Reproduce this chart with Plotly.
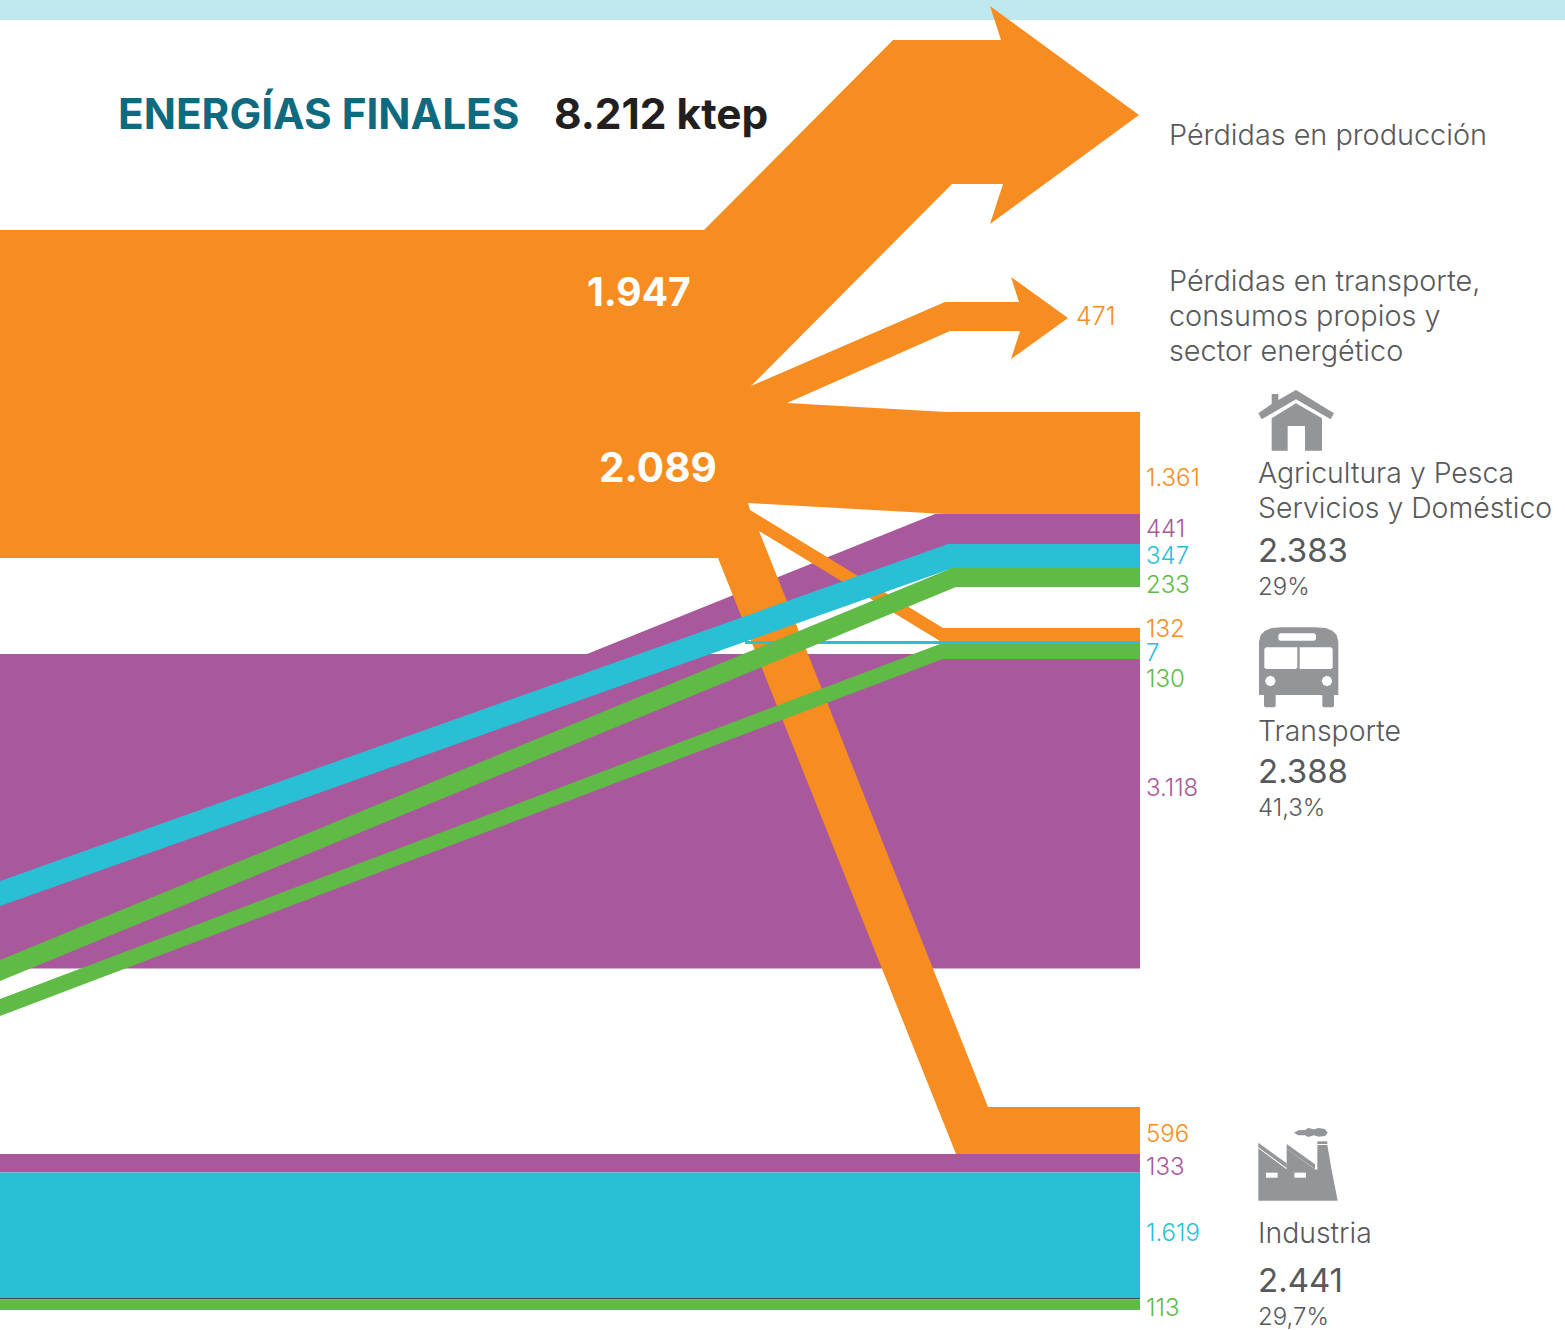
import plotly.graph_objects as go

ORANGE, PURPLE, CYAN, GREEN = "#f78d20", "#aa589c", "#29bfd4", "#5fba46"
GRAY, ICON = "#58595b", "#939598"
FONT = "Inter"

title_text = "ENERGÍAS FINALES"
total_text = "8.212 ktep"
loss_labels = ["Pérdidas en producción", "Pérdidas en transporte,", "consumos propios y", "sector energético"]
sector_names = ["Agricultura y Pesca", "Servicios y Doméstico", "Transporte", "Industria"]
sector_totals = ["2.383", "2.388", "2.441"]
sector_shares = ["29%", "41,3%", "29,7%"]
big_values = ["1.947", "2.089"]
flow_values = ["471", "1.361", "441", "347", "233", "132", "7", "130", "3.118", "596", "133", "1.619", "113"]
flow_colors = [ORANGE, ORANGE, PURPLE, CYAN, GREEN, ORANGE, CYAN, GREEN, PURPLE, ORANGE, PURPLE, CYAN, GREEN]
flow_label_y = [316, 477, 528, 555, 584, 628, 652, 678, 787, 1133, 1166, 1232, 1307]

# Flow outlines
purple_main_x = [0, 1140, 1140, 0]
purple_main_y = [654, 654, 968.5, 968.5]
purple_up_x = [587, 935, 1140, 1140, 950, 642]
purple_up_y = [654, 514, 514, 545, 545, 654]
orange_x = [0, 704, 893, 1001, 990, 1139, 990, 1003, 952, 751, 945, 1019, 1011, 1068, 1011, 1020, 950, 787, 947,
            1140, 1140, 945, 748, 750, 943, 1140, 1140, 940, 759, 988, 1140, 1140, 956, 718, 0]
orange_y = [230, 230, 40, 40, 6, 115, 224, 184, 184, 386, 302, 302, 277, 318, 359, 331, 331, 403, 412,
            412, 514, 514, 503, 510, 628, 628, 641, 641, 531, 1107, 1107, 1154, 1154, 558, 558]
cyan_x = [0, 948, 1140, 1140, 953, 0]
cyan_y = [881, 544, 544, 568, 568, 906]
thin_x = [745, 1140, 1140, 745]
thin_y = [641, 641, 644, 644]
green_up_x = [0, 952, 1140, 1140, 956, 0]
green_up_y = [960, 568, 568, 587, 587, 981]
green_low_x = [0, 940, 1140, 1140, 943, 0]
green_low_y = [999, 644, 644, 659, 659, 1016]
bot_purple_x = [0, 1140, 1140, 0]
bot_purple_y = [1154, 1154, 1172.5, 1172.5]
bot_cyan_x = [0, 1140, 1140, 0]
bot_cyan_y = [1172.5, 1172.5, 1298, 1298]
bot_line_x = [0, 1140, 1140, 0]
bot_line_y = [1298, 1298, 1299.3, 1299.3]
bot_green_x = [0, 1140, 1140, 0]
bot_green_y = [1299.3, 1299.3, 1310, 1310]

fig = go.Figure()


def poly(x, y, color):
    fig.add_trace(go.Scatter(x=list(x) + [x[0]], y=list(y) + [y[0]], mode="lines", fill="toself", fillcolor=color,
                             line=dict(width=0, color=color), hoverinfo="skip", showlegend=False))


def zoomed(ox, oy, pts):
    return [ox + p[0] / 3 for p in pts], [oy + p[1] / 3 for p in pts]


poly([0, 1565, 1565, 0], [0, 0, 20, 20], "#bfe8ee")
poly(purple_main_x, purple_main_y, PURPLE)
poly(purple_up_x, purple_up_y, PURPLE)
poly(orange_x, orange_y, ORANGE)
poly(thin_x, thin_y, CYAN)
poly(cyan_x, cyan_y, CYAN)
poly(green_up_x, green_up_y, GREEN)
poly(green_low_x, green_low_y, GREEN)
poly(bot_purple_x, bot_purple_y, PURPLE)
poly(bot_cyan_x, bot_cyan_y, CYAN)
poly(bot_line_x, bot_line_y, "#3f4a50")
poly(bot_green_x, bot_green_y, GREEN)

# House icon
poly(*zoomed(1240, 380, [(55, 100), (95, 72), (95, 42), (115, 42), (115, 60), (168, 30), (282, 100), (272, 118),
                         (168, 58), (65, 118)]), ICON)
poly(*zoomed(1240, 380, [(95, 115), (168, 70), (246, 115), (246, 212), (195, 212), (195, 138), (143, 138), (143, 212),
                         (95, 212)]), ICON)
# Bus icon
poly(*zoomed(1240, 620, [(57, 225), (57, 65), (62, 45), (75, 32), (95, 24), (125, 22), (227, 22), (257, 24), (277, 32),
                         (290, 45), (295, 65), (295, 225)]), ICON)
poly(*zoomed(1240, 620, [(72, 225), (107, 225), (107, 258), (103, 262), (76, 262), (72, 258)]), ICON)
poly(*zoomed(1240, 620, [(247, 225), (282, 225), (282, 258), (278, 262), (251, 262), (247, 258)]), ICON)
poly(*zoomed(1240, 620, [(78, 82), (172, 82), (172, 142), (167, 147), (78, 147), (73, 142), (73, 87)]), "#ffffff")
poly(*zoomed(1240, 620, [(179, 82), (273, 82), (278, 87), (278, 142), (273, 147), (179, 147)]), "#ffffff")
poly(*zoomed(1240, 620, [(120, 40), (223, 40), (228, 45), (228, 57), (223, 62), (120, 62), (115, 57), (115, 45)]), "#ffffff")
poly(*zoomed(1240, 620, [(91, 167), (102, 172), (107, 183), (102, 194), (91, 199), (80, 194), (75, 183), (80, 172)]), "#ffffff")
poly(*zoomed(1240, 620, [(261, 167), (272, 172), (277, 183), (272, 194), (261, 199), (250, 194), (245, 183), (250, 172)]), "#ffffff")
# Factory icon
poly(*zoomed(1240, 1120, [(55, 242), (55, 85), (140, 148), (140, 86), (225, 148), (232, 150), (232, 75), (262, 75),
                          (275, 150), (293, 242)]), ICON)
poly(*zoomed(1240, 1120, [(55, 68), (140, 130), (140, 144), (55, 82)]), ICON)
poly(*zoomed(1240, 1120, [(140, 72), (225, 133), (225, 147), (140, 86)]), ICON)
poly(*zoomed(1240, 1120, [(232, 64), (262, 64), (262, 72), (232, 72)]), ICON)
poly(*zoomed(1240, 1120, [(78, 158), (113, 158), (113, 173), (78, 173)]), "#ffffff")
poly(*zoomed(1240, 1120, [(163, 158), (198, 158), (198, 173), (163, 173)]), "#ffffff")
poly(*zoomed(1240, 1120, [(162, 38), (175, 31), (195, 30), (205, 24), (222, 28), (235, 24), (255, 27), (263, 38),
                          (255, 48), (235, 50), (222, 46), (205, 51), (195, 46), (175, 46)]), ICON)


def text(x, y, s, size, color, weight=400, family=FONT):
    fig.add_annotation(x=x, y=y, text=s, xref="x", yref="y", xanchor="left", yanchor="middle", showarrow=False,
                       borderpad=0, borderwidth=0,
                       font=dict(family=family, size=size, color=color, weight=weight))


text(118, 113, title_text, 42.3, "#0f6a80", 700)
text(554, 113, total_text, 42.4, "#231f20", 700)
text(587, 291, big_values[0], 39, "#ffffff", 700)
text(599, 467, big_values[1], 40.5, "#ffffff", 700)

for i, (val, col, y) in enumerate(zip(flow_values, flow_colors, flow_label_y)):
    text(1075.5 if i == 0 else 1145.5, y, val, 25 if i == 0 else 24, col, 300)

for s, y in zip(loss_labels, [134.5, 280, 315, 350]):
    text(1169, y, s, 28.8, GRAY, 300)
for s, y in zip(sector_names, [472, 507, 730, 1232]):
    text(1258, y, s, 28.4, GRAY, 300)
for s, y in zip(sector_totals, [550, 771, 1280]):
    text(1258, y, s, 33, GRAY)
for s, y in zip(sector_shares, [586, 807, 1316]):
    text(1258, y, s, 24, GRAY, 300)

fig.update_layout(
    width=1565, height=1330, autosize=False,
    margin=dict(l=0, r=0, t=0, b=0, pad=0),
    paper_bgcolor="#ffffff", plot_bgcolor="#ffffff", showlegend=False,
    xaxis=dict(range=[0, 1565], visible=False, fixedrange=True),
    yaxis=dict(range=[1330, 0], visible=False, fixedrange=True),
)
fig.write_html("out.html", config={"displayModeBar": False},
               post_script="document.body.style.margin='0';document.body.style.overflow='hidden';")
